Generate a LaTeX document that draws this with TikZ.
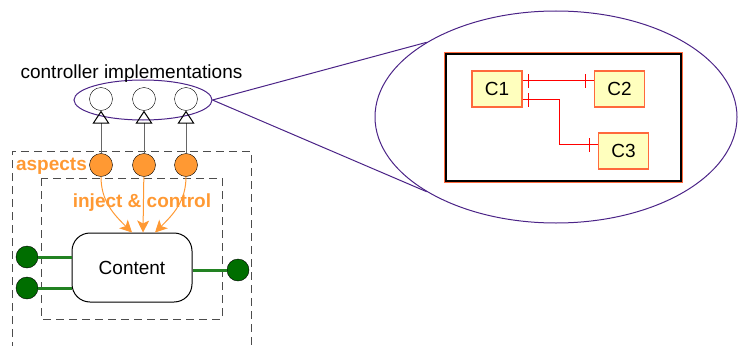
\documentclass[tikz,border=0pt]{standalone}
\usepackage{fontspec}
\setmainfont{Liberation Sans}
\usetikzlibrary{arrows.meta,shapes.geometric,decorations.markings}
\tikzset{>=latex}
\definecolor{aspcol}{RGB}{255,153,51}
\definecolor{portcol}{RGB}{0,110,0}
\definecolor{wirecol}{RGB}{34,130,34}
\definecolor{zoomcol}{RGB}{75,35,135}
\definecolor{clsfill}{RGB}{255,255,190}
\definecolor{clsline}{RGB}{255,105,60}

\tikzset{
    impl/.style={circle, draw, fill=white, minimum size=23pt, inner sep=0pt},
    aspect/.style={circle, draw, fill=aspcol, minimum size=23pt, inner sep=0pt},
    port/.style={circle, draw, fill=portcol, minimum size=22pt, inner sep=0pt},
    cls/.style={draw=clsline, line width=1.4pt, fill=clsfill, minimum width=50pt, minimum height=36pt, inner sep=0pt},
    frame/.style={black!70, line width=0.9pt, dash pattern=on 8pt off 5pt},
    wire/.style={wirecol, line width=3pt},
    inject/.style={aspcol, line width=1pt, -{Stealth[length=12pt, width=12pt, inset=3pt]}},
    realize/.style={black!60, line width=1pt, -{Triangle[open, length=13pt, width=17pt, color=black]}},
    tick/.style={draw=red, line width=1.1pt},
    reflink/.style={tick, postaction={decorate, decoration={markings,
        mark=at position 6pt with {\draw[tick] (0,-7pt) -- (0,7pt);},
        mark=at position -8pt with {\draw[tick] (0,-7pt) -- (0,7pt);}}}},
}

\begin{document}
\begin{tikzpicture}[x=1pt, y=-1pt, font=\fontsize{19}{22}\selectfont]
    \useasboundingbox (0,0) rectangle (738,345);

    % zoomed view
    \node[ellipse, draw=zoomcol, line width=1pt, minimum width=362pt, minimum height=212pt, inner sep=0pt] (zoom) at (556,117) {};
    \node[draw=black, line width=1.2pt, fill=white, minimum width=235pt, minimum height=127pt, inner sep=0pt,
        preaction={draw=clsline, line width=4pt}] (panel) at (563.5,117.5) {};
    \node[cls] (c1) at (497,89) {C1};
    \node[cls] (c2) at (619.5,89) {C2};
    \node[cls] (c3) at (623.5,151) {C3};
    \draw[reflink] ([yshift=8.5pt]c1.east) -- ([yshift=8.5pt]c2.west);
    \draw[reflink] ([yshift=-10.5pt]c1.east) -- ++(37,0) |- ([yshift=6.5pt]c3.west);

    % controller implementations
    \node[ellipse, draw=zoomcol, line width=1pt, minimum width=138pt, minimum height=40pt, inner sep=0pt] (implset) at (143,100) {};
    \node[anchor=base] (impltext) at (131.5,78) {controller implementations};
    \draw[zoomcol, line width=1pt] (implset.east) -- (zoom.150);
    \draw[zoomcol, line width=1pt] (implset.east) -- (zoom.210);

    % frames
    \draw[frame] (12,350) |- (251,151) -- (251,350);
    \draw[frame] (41,178) rectangle (222,319);
    \node[anchor=base, text=aspcol, font=\fontsize{19}{22}\selectfont\bfseries] (asptext) at (51.5,170) {aspects};
    \node[anchor=base, text=aspcol, font=\fontsize{19}{22}\selectfont\bfseries] (injtext) at (142,207) {inject \& control};

    \foreach \i/\x in {1/101, 2/144, 3/186}
    {
        \node[impl] (impl\i) at (\x, 99) {};
        \node[aspect] (asp\i) at (\x, 165) {};
        \draw[realize] (asp\i) -- (impl\i);
    }

    \node[draw, line width=1pt, rounded corners=18pt, fill=white, minimum width=120pt, minimum height=69pt] (content) at (132,267.5) {Content};
    \draw[inject] (asp1) to[out=-90, in=135] (content.north);
    \draw[inject] (asp2) -- ([xshift=11pt]content.north);
    \draw[inject] (asp3) to[out=-90, in=45] ([xshift=23pt]content.north);

    % ports
    \node[port] (portA) at (27,257) {};
    \node[port] (portB) at (27,288) {};
    \node[port] (portC) at (238,270) {};
    \draw[wire] (portA) -- (portA -| content.west);
    \draw[wire] (portB) -- (portB -| content.west);
    \draw[wire] (portC) -- (portC -| content.east);
\end{tikzpicture}
\end{document}
